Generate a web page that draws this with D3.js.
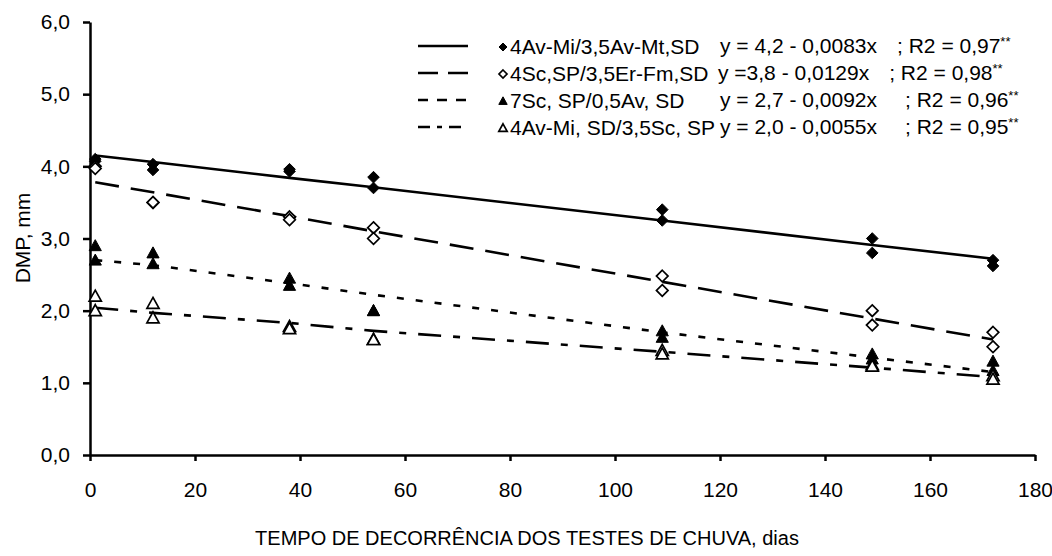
<!DOCTYPE html>
<html><head><meta charset="utf-8">
<script src="https://cdn.jsdelivr.net/npm/d3@7"></script>
<style>body{margin:0;background:#fff;} text{font-family:"Liberation Sans",Arial,sans-serif;fill:#000;}</style>
</head><body>
<svg id="c" width="1052" height="556"></svg>
<script>
const days = [1, 12, 38, 54, 109, 149, 172];
// observed values (two replicates per day)
const s1a = [4.10, 4.03, 3.96, 3.85, 3.40, 3.00, 2.70];
const s1b = [4.07, 3.95, 3.93, 3.70, 3.25, 2.80, 2.62];
const s2a = [4.00, 3.50, 3.30, 3.15, 2.48, 2.00, 1.70];
const s2b = [3.97, 3.50, 3.26, 3.00, 2.28, 1.80, 1.50];
const s3a = [2.90, 2.80, 2.45, 2.00, 1.72, 1.40, 1.30];
const s3b = [2.70, 2.65, 2.35, 2.00, 1.63, 1.33, 1.17];
const s4a = [2.20, 2.10, 1.78, 1.60, 1.45, 1.25, 1.10];
const s4b = [2.00, 1.90, 1.75, 1.60, 1.40, 1.23, 1.05];
// fitted values
const f1 = [4.15, 4.06, 3.84, 3.71, 3.25, 2.91, 2.72];
const f2 = [3.78, 3.64, 3.31, 3.10, 2.40, 1.89, 1.60];
const f3 = [2.70, 2.63, 2.38, 2.22, 1.70, 1.35, 1.15];
const f4 = [2.04, 1.97, 1.83, 1.72, 1.43, 1.21, 1.08];
const names = ["4Av-Mi/3,5Av-Mt,SD", "4Sc,SP/3,5Er-Fm,SD", "7Sc, SP/0,5Av, SD", "4Av-Mi, SD/3,5Sc, SP"];
const eqA = ["y = 4,2 - 0,0083x", "y =3,8 - 0,0129x", "y = 2,7 - 0,0092x", "y = 2,0 - 0,0055x"];
const eqB = ["; R2 = 0,97", "; R2 = 0,98", "; R2 = 0,96", "; R2 = 0,95"];
const xTicks = [0, 20, 40, 60, 80, 100, 120, 140, 160, 180];
const yTicks = [0, 1, 2, 3, 4, 5, 6];

// layout
const FS = 21;
const eqX = [720, 718, 720, 720];
const eqGap = [20, 20, 28, 28];
const ly = [46, 73, 100, 127];

const series = [
  {a: s1a, b: s1b, f: f1, sym: "diamond", fill: true, dash: null, ldash: null},
  {a: s2a, b: s2b, f: f2, sym: "diamond", fill: false, dash: "24,12", ldash: "20,10"},
  {a: s3a, b: s3b, f: f3, sym: "triangle", fill: true, dash: "7,12", ldash: "10,9"},
  {a: s4a, b: s4b, f: f4, sym: "triangle", fill: false, dash: "23,12,7,12", ldash: "12,7,5,7"}
];

const svg = d3.select("#c");
const x = d3.scaleLinear().domain([0, 180]).range([90, 1035]);
const y = d3.scaleLinear().domain([0, 6]).range([455, 22]);

const fmt = d => d.toFixed(1).replace(".", ",");

const gx = svg.append("g").attr("transform", "translate(0,455)")
  .call(d3.axisBottom(x).tickValues(xTicks).tickSize(6).tickPadding(21).tickSizeOuter(0));
const gy = svg.append("g").attr("transform", "translate(90,0)")
  .call(d3.axisLeft(y).tickValues(yTicks).tickFormat(fmt).tickSize(7).tickPadding(13).tickSizeOuter(0));
[gx, gy].forEach(g => {
  g.select(".domain").attr("stroke", "#000").attr("stroke-width", 2.5);
  g.selectAll(".tick line").attr("stroke", "#000").attr("stroke-width", 2.5);
  g.selectAll(".tick text").attr("font-size", FS).attr("font-family", "Liberation Sans, Arial, sans-serif");
});

svg.append("text").attr("x", 527).attr("y", 545).attr("text-anchor", "middle").attr("font-size", 20)
  .text("TEMPO DE DECORRÊNCIA DOS TESTES DE CHUVA, dias");
svg.append("text").attr("transform", "translate(30,238) rotate(-90)").attr("text-anchor", "middle").attr("font-size", FS)
  .text("DMP, mm");

const line = d3.line().x((d, i) => x(days[i])).y(d => y(d));
function symPath(sym, r) {
  if (sym === "diamond") return `M0,${-r}L${r},0L0,${r}L${-r},0Z`;
  const h = r * 1.9, w = r * 1.05;
  return `M0,${-h * 0.55}L${w},${h * 0.45}L${-w},${h * 0.45}Z`;
}
function marker(g, s, px, py, r) {
  g.append("path").attr("d", symPath(s.sym, r)).attr("transform", `translate(${px},${py})`)
    .attr("fill", s.fill ? "#000" : "#fff").attr("stroke", "#000").attr("stroke-width", s.fill ? 1 : 1.7);
}

series.forEach(s => {
  svg.append("path").datum(s.f).attr("d", line).attr("fill", "none").attr("stroke", "#000")
    .attr("stroke-width", 2.6).attr("stroke-dasharray", s.dash);
});
series.forEach(s => {
  const g = svg.append("g");
  [s.a, s.b].forEach(arr => arr.forEach((v, i) => marker(g, s, x(days[i]), y(v), 5.8)));
});

series.forEach((s, i) => {
  svg.append("line").attr("x1", 418).attr("x2", 468).attr("y1", ly[i]).attr("y2", ly[i])
    .attr("stroke", "#000").attr("stroke-width", 2.6).attr("stroke-dasharray", s.ldash);
  marker(svg, s, 503, ly[i] + 1, 4);
  svg.append("text").attr("x", 510).attr("y", ly[i] + 8).attr("font-size", FS).text(names[i]);
  const t = svg.append("text").attr("x", eqX[i]).attr("y", ly[i] + 7).attr("font-size", FS);
  t.append("tspan").text(eqA[i]);
  t.append("tspan").attr("dx", eqGap[i]).text(eqB[i]);
  t.append("tspan").attr("font-size", 13).attr("dy", -7).text("**");
});
</script>
</body></html>
